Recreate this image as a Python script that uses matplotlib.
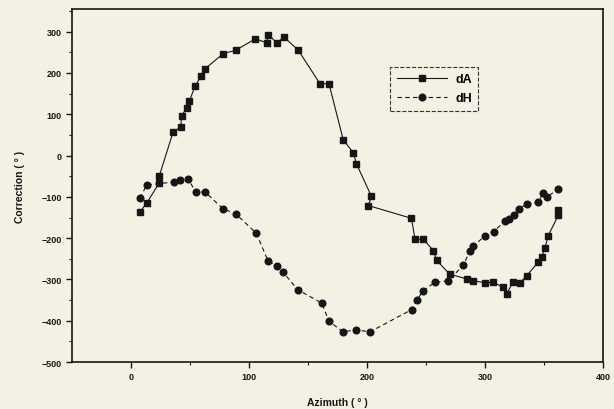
import numpy as np
from matplotlib import pyplot as plt

plt.rcParams['font.family'] = ['Liberation Sans', 'DejaVu Sans']

# dA (squares)
az_dA = [7.6, 13.3, 24.0, 24.0, 35.8, 42.1, 43.0, 47.2, 49.4, 54.2, 59.3, 62.7,
         78.2, 88.7, 105.5, 115.0, 116.4, 123.5, 129.7, 141.8, 160.2, 167.8,
         179.9, 188.4, 191.1, 203.8, 201.1, 237.7, 240.7, 247.7, 256.2, 259.1,
         270.0, 284.7, 290.1, 300.0, 307.2, 315.5, 318.4, 324.0, 329.7, 335.3,
         345.2, 348.1, 350.8, 353.6, 362.1, 362.1]
dA = [-136, -115, -66, -49, 58, 69, 97, 115, 131, 168, 192, 210,
      247, 255, 283, 273, 293, 273, 287, 255, 174, 174,
      38, 7, -20, -99, -121, -152, -202, -202, -230, -254,
      -287, -299, -303, -308, -307, -319, -335, -305, -308, -291,
      -258, -246, -224, -194, -145, -133]

# dH (circles)
az_dH = [7.6, 13.3, 36.4, 41.5, 48.3, 54.8, 62.7, 78.0, 88.7, 106.2, 116.1,
         123.5, 128.8, 141.3, 161.6, 167.8, 179.7, 190.7, 202.5, 237.9, 242.1,
         247.7, 257.6, 268.9, 281.6, 287.3, 290.1, 300.0, 307.6, 317.0, 320.0,
         324.6, 328.8, 335.3, 345.2, 349.4, 352.3, 362.1]
dH = [-103, -71, -64, -60, -56, -88, -88, -129, -141, -188, -255,
      -267, -282, -325, -357, -401, -427, -422, -427, -373, -351,
      -327, -307, -303, -266, -230, -220, -194, -184, -158, -153,
      -143, -130, -117, -113, -90, -101, -81]

bg = '#f2f1e3'
ink = '#161616'
fig = plt.figure(figsize=(6.14, 4.10), dpi=100, facecolor=bg)
ax = fig.add_axes([0.1173, 0.1146, 0.8647, 0.861])
ax.set_facecolor(bg)

ax.plot(az_dA, dA, marker='s', markersize=4.3, color=ink,
        linestyle='-', linewidth=0.8, label='dA')
ax.plot(az_dH, dH, marker='o', markersize=4.8, color=ink,
        linestyle=(0, (4, 3)), linewidth=0.8, label='dH')

ax.set_xlim(-50, 400)
ax.set_ylim(-500, 355)
ax.set_xticks(np.arange(0, 401, 100))
ax.set_xticks(np.arange(50, 400, 100), minor=True)
ax.set_yticks(np.arange(-500, 301, 100))
ax.set_yticks(np.arange(-450, 351, 100), minor=True)
ax.tick_params(which='both', direction='out', top=False, right=False,
               labelsize=6.5, color=ink, labelcolor=ink)
ax.tick_params(which='major', length=4, width=1)
ax.tick_params(which='minor', length=2.5, width=0.8)
for lab in ax.get_xticklabels() + ax.get_yticklabels():
    lab.set_fontweight('bold')
for s in ax.spines.values():
    s.set_linewidth(1.2)
    s.set_color(ink)

ax.set_xlabel('Azimuth ( ° )', fontsize=7.5, color=ink, labelpad=11,
              fontweight='bold')
ax.set_ylabel('Correction ( ° )', fontsize=7.5, color=ink, labelpad=12,
              fontweight='bold')

leg = ax.legend(loc='upper left', bbox_to_anchor=(0.588, 0.853), fontsize=9,
                frameon=True, fancybox=False, edgecolor='#333333',
                facecolor=bg, framealpha=1, handlelength=4,
                borderpad=0.5, labelspacing=0.55, handletextpad=0.7)
leg.get_frame().set_linewidth(0.8)
leg.get_frame().set_linestyle('--')
for t in leg.get_texts():
    t.set_fontweight('bold')

plt.savefig('out.png', dpi=100, facecolor=bg)
